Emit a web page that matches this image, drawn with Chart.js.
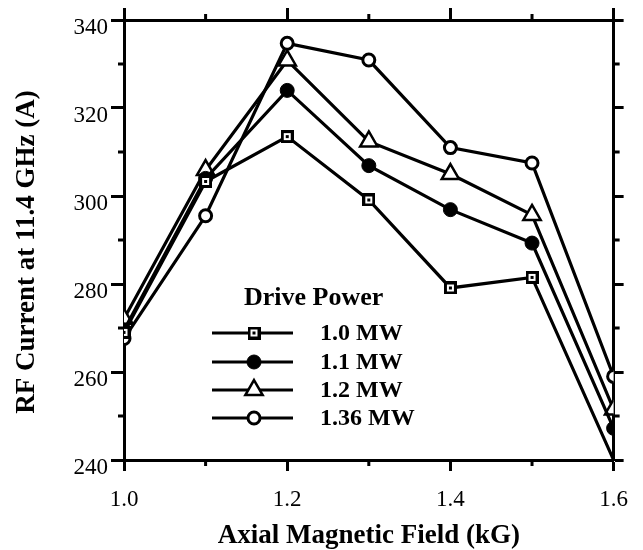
<!DOCTYPE html>
<html>
<head>
<meta charset="utf-8">
<script src="https://cdn.jsdelivr.net/npm/chart.js@4.4.1/dist/chart.umd.min.js"></script>
<style>
  html, body { margin: 0; padding: 0; background: #fff; }
  #wrap { width: 643px; height: 550px; }
</style>
</head>
<body>
<div id="wrap"><canvas id="c" width="643" height="550"></canvas></div>
<script>
// ---- data ----
const fieldKG = [1.0, 1.1, 1.2, 1.3, 1.4, 1.5, 1.6];
const mw10  = [269.0, 303.3, 313.5, 299.1, 279.1, 281.5, 240.0];
const mw11  = [269.5, 304.0, 324.0, 306.9, 296.9, 289.3, 247.2];
const mw12  = [272.1, 305.9, 330.8, 312.4, 305.0, 295.7, 251.5];
const mw136 = [267.6, 295.5, 334.7, 330.9, 311.0, 307.5, 259.0];
const seriesNames = ['1.0 MW', '1.1 MW', '1.2 MW', '1.36 MW'];
const legendTitle = 'Drive Power';
const xTitle = 'Axial Magnetic Field (kG)';
const yTitle = 'RF Current at 11.4 GHz (A)';
const xMin = 1.0, xMax = 1.6, xMajorStep = 0.2;
const yMin = 240, yMax = 340, yMajorStep = 20;
const xMinorTicks = [1.1, 1.3, 1.5];
const yMinorTicks = [250, 270, 290, 310, 330];

// ---- marker images ----
function squareDot() {
  const c = document.createElement('canvas');
  c.width = 13; c.height = 13;
  const g = c.getContext('2d');
  g.fillStyle = '#000'; g.fillRect(0, 0, 13, 13);
  g.fillStyle = '#fff'; g.fillRect(3, 3, 7, 7);
  g.fillStyle = '#000'; g.fillRect(5, 5, 3, 3);
  return c;
}
const sqImg = squareDot();

const markerStyles = [
  { pointStyle: sqImg, radius: 6, borderWidth: 0, backgroundColor: '#000' },
  { pointStyle: 'circle', radius: 7, borderWidth: 1, backgroundColor: '#000' },
  { pointStyle: 'triangle', radius: 10, borderWidth: 2.5, backgroundColor: '#fff' },
  { pointStyle: 'circle', radius: 6, borderWidth: 3, backgroundColor: '#fff' }
];
const seriesData = [mw10, mw11, mw12, mw136];

const datasets = seriesData.map((vals, i) => ({
  label: seriesNames[i],
  data: vals.map((v, j) => ({ x: fieldKG[j], y: v })),
  borderColor: '#000',
  borderWidth: 3.2,
  pointStyle: markerStyles[i].pointStyle,
  pointRadius: c => (c.raw && c.raw.y <= yMin) ? 0 : markerStyles[i].radius,
  pointBorderWidth: markerStyles[i].borderWidth,
  pointBackgroundColor: markerStyles[i].backgroundColor,
  pointBorderColor: '#000',
  tension: 0,
  fill: false
}));

const titleFont = { family: 'Liberation Serif', size: 27, weight: 'bold', lineHeight: 1 };
const tickFont = { family: 'Liberation Serif', size: 23 };

// ---- plugins ----
const minorTicks = {
  id: 'minorTicks',
  afterDraw(chart) {
    const ctx = chart.ctx;
    const { left, right, top, bottom } = chart.chartArea;
    const xs = chart.scales.x, ys = chart.scales.y;
    ctx.save();
    ctx.strokeStyle = '#000';
    ctx.lineWidth = 3;
    ctx.beginPath();
    xMinorTicks.forEach(v => {
      const px = xs.getPixelForValue(v);
      ctx.moveTo(px, bottom); ctx.lineTo(px, bottom + 6);
      ctx.moveTo(px, top); ctx.lineTo(px, top - 6);
    });
    yMinorTicks.forEach(v => {
      const py = ys.getPixelForValue(v);
      ctx.moveTo(left, py); ctx.lineTo(left - 6, py);
      ctx.moveTo(right, py); ctx.lineTo(right + 6, py);
    });
    ctx.stroke();
    // y-axis title
    ctx.translate(27, 252);
    ctx.rotate(-Math.PI / 2);
    ctx.fillStyle = '#000';
    ctx.font = 'bold 27px "Liberation Serif"';
    ctx.textAlign = 'center';
    ctx.textBaseline = 'middle';
    ctx.fillText(yTitle, 0, 0);
    ctx.restore();
  }
};

const customLegend = {
  id: 'customLegend',
  afterDatasetsDraw(chart) {
    const ctx = chart.ctx;
    ctx.save();
    ctx.fillStyle = '#000';
    ctx.font = 'bold 26px "Liberation Serif"';
    ctx.textBaseline = 'middle';
    ctx.textAlign = 'left';
    ctx.fillText(legendTitle, 244, 298);
    const rowY = [333, 362, 390, 418];
    seriesNames.forEach((name, i) => {
      const y = rowY[i];
      ctx.strokeStyle = '#000';
      ctx.lineWidth = 3;
      ctx.beginPath();
      ctx.moveTo(212, y); ctx.lineTo(293, y);
      ctx.stroke();
      const m = markerStyles[i];
      ctx.fillStyle = m.backgroundColor;
      ctx.strokeStyle = '#000';
      ctx.lineWidth = m.borderWidth;
      Chart.helpers.drawPoint(ctx, {
        pointStyle: m.pointStyle, radius: m.radius, rotation: 0, borderWidth: m.borderWidth
      }, 254, y);
      ctx.fillStyle = '#000';
      ctx.font = 'bold 24px "Liberation Serif"';
      ctx.fillText(name, 320, y + 1);
    });
    ctx.restore();
  }
};

new Chart(document.getElementById('c'), {
  type: 'line',
  data: { datasets },
  options: {
    responsive: false,
    animation: false,
    devicePixelRatio: 1,
    layout: { padding: 0 },
    plugins: { legend: { display: false }, tooltip: { enabled: false } },
    scales: {
      x: {
        type: 'linear', position: 'bottom', min: xMin, max: xMax,
        ticks: { stepSize: xMajorStep, color: '#000', font: tickFont, padding: 15,
                 callback: v => Number(v).toFixed(1) },
        grid: { drawOnChartArea: false, drawTicks: true, tickLength: 11, tickWidth: 3, tickColor: '#000' },
        border: { display: true, color: '#000', width: 3 },
        title: { display: true, text: xTitle, color: '#000', font: titleFont, padding: { top: 0, bottom: 0 } },
        afterFit: s => { s.height = 90; }
      },
      x2: {
        type: 'linear', position: 'top', min: xMin, max: xMax,
        ticks: { stepSize: xMajorStep, display: false },
        grid: { drawOnChartArea: false, drawTicks: true, tickLength: 12, tickWidth: 3, tickColor: '#000' },
        border: { display: true, color: '#000', width: 3 },
        afterFit: s => { s.height = 20; }
      },
      y: {
        type: 'linear', position: 'left', min: yMin, max: yMax,
        ticks: { stepSize: yMajorStep, color: '#000', font: tickFont, padding: 3, labelOffset: 8 },
        grid: { drawOnChartArea: false, drawTicks: true, tickLength: 13, tickWidth: 3, tickColor: '#000' },
        border: { display: true, color: '#000', width: 3 },
        title: { display: false, text: yTitle },
        afterFit: s => { s.width = 124; }
      },
      y2: {
        type: 'linear', position: 'right', min: yMin, max: yMax,
        ticks: { stepSize: yMajorStep, display: false },
        grid: { drawOnChartArea: false, drawTicks: true, tickLength: 10, tickWidth: 3, tickColor: '#000' },
        border: { display: true, color: '#000', width: 3 },
        afterFit: s => { s.width = 26; }
      }
    }
  },
  plugins: [minorTicks, customLegend]
});
</script>
</body>
</html>
